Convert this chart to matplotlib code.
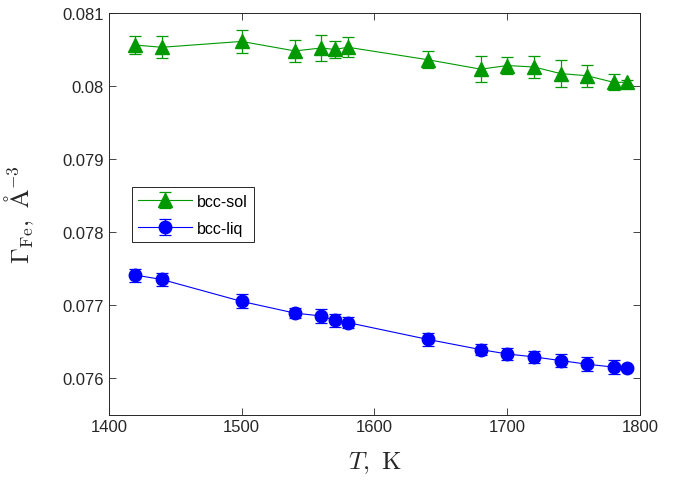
import numpy as np
import matplotlib
matplotlib.use("Agg")
import matplotlib.pyplot as plt
from matplotlib.ticker import FuncFormatter

T = [1420, 1440, 1500, 1540, 1560, 1570, 1580, 1640, 1680, 1700, 1720, 1740, 1760, 1780, 1790]

gamma_sol = [0.08056, 0.08053, 0.08061, 0.08048, 0.08052, 0.08050, 0.08053, 0.08036,
             0.08023, 0.08028, 0.08026, 0.08017, 0.08014, 0.08005, 0.08005]
err_sol = [0.000126, 0.00015, 0.00016, 0.00015, 0.00018, 0.00012, 0.00014, 0.00012,
           0.000175, 0.000117, 0.000154, 0.00018, 0.000154, 0.00011, 0.00003]

gamma_liq = [0.07741, 0.07735, 0.07705, 0.07689, 0.07685, 0.07679, 0.07676, 0.07653,
             0.07639, 0.07633, 0.07629, 0.07624, 0.07619, 0.07615, 0.07614]
err_liq = [0.00009, 0.00009, 0.000095, 0.00007, 0.00009, 0.00009, 0.00007, 0.00009,
           0.00007, 0.000085, 0.00008, 0.000085, 0.0001, 0.000095, 0.00003]

plt.rcParams['font.family'] = ['Liberation Sans', 'DejaVu Sans']
plt.rcParams['mathtext.fontset'] = 'cm'

fig = plt.figure(figsize=(6.84, 4.81), dpi=100)
ax = fig.add_axes([0.159, 0.136, 0.777, 0.835])

green = '#009a00'
blue = '#0000ff'

ax.errorbar(T, gamma_sol, yerr=err_sol, color=green, marker='^', markersize=10.5,
            linewidth=0.8, elinewidth=0.9, capsize=4, capthick=0.9, label='bcc-sol')
ax.errorbar(T, gamma_liq, yerr=err_liq, color=blue, marker='o', markersize=9,
            linewidth=0.8, elinewidth=0.9, capsize=4, capthick=0.9, label='bcc-liq')

ax.set_xlim(1400, 1800)
ax.set_ylim(0.0755, 0.081)
ax.set_xticks([1400, 1500, 1600, 1700, 1800])
ax.set_yticks([0.076, 0.077, 0.078, 0.079, 0.08, 0.081])
ax.yaxis.set_major_formatter(FuncFormatter(lambda v, p: '%g' % round(v, 4)))

ax.tick_params(direction='in', top=True, right=True, labelsize=12,
               colors='0.15', length=5, width=0.6)
for s in ax.spines.values():
    s.set_color('0.15')
    s.set_linewidth(0.7)

ax.set_xlabel(r'$T,\ \mathrm{K}$', fontsize=18, color='0.15', labelpad=11)
ax.set_ylabel(r'$\Gamma_{\mathrm{Fe}},\ \mathrm{\AA}^{-3}$', fontsize=18,
              color='0.15', labelpad=19)

leg = ax.legend(loc='upper left', bbox_to_anchor=(0.043, 0.566), fontsize=11.5,
                fancybox=False, edgecolor='0.15', framealpha=1,
                handlelength=3.4, handletextpad=0.3, borderpad=0.4,
                labelspacing=0.75, borderaxespad=0)
leg.get_frame().set_linewidth(0.7)

fig.savefig('out.png', dpi=100)
